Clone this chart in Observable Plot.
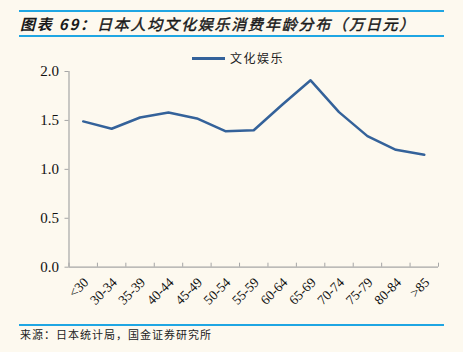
<!DOCTYPE html>
<html><head><meta charset="utf-8">
<script src="https://cdn.jsdelivr.net/npm/d3@7"></script>
<script src="https://cdn.jsdelivr.net/npm/@observablehq/plot@0.6"></script>
<style>
html,body{margin:0;padding:0;background:#FDF9EF;}
#wrap{position:relative;width:463px;height:352px;background:#FDF9EF;overflow:hidden;}
.hr{position:absolute;left:19px;width:425px;height:2px;background:#1FA6E3;}
#title{position:absolute;left:20px;top:13px;font-family:"Noto Sans CJK SC",sans-serif;font-size:15px;font-style:italic;font-weight:normal;-webkit-text-stroke:0.45px #1a1a1a;color:#1a1a1a;letter-spacing:1.8px;white-space:nowrap;line-height:22px;}
#title b{font-weight:bold;-webkit-text-stroke:0;}
#src{position:absolute;left:20px;top:326px;font-family:"Noto Sans CJK SC",sans-serif;font-size:11px;color:#222;letter-spacing:1px;white-space:nowrap;line-height:16px;}
#legend{position:absolute;left:192px;top:50px;font-family:"Noto Sans CJK SC",sans-serif;font-size:12px;color:#222;letter-spacing:1.5px;white-space:nowrap;line-height:16px;display:flex;align-items:center;}
#legend .sw{display:inline-block;width:33px;height:3px;background:#34629A;margin-right:5px;}
#chart{position:absolute;left:0;top:40px;}
</style></head>
<body><div id="wrap">
<div class="hr" style="top:10px"></div>
<div id="title"><b>图表 69：</b>日本人均文化娱乐消费年龄分布（万日元）</div>
<div class="hr" style="top:35px"></div>
<div id="legend"><span class="sw"></span>文化娱乐</div>
<div id="chart"></div>
<div class="hr" style="top:324px"></div>
<div id="src">来源：日本统计局，国金证券研究所</div>
</div>
<script>
const categories = ["<30","30-34","35-39","40-44","45-49","50-54","55-59","60-64","65-69","70-74","75-79","80-84",">85"];
const values = [1.49,1.415,1.53,1.58,1.52,1.39,1.40,1.66,1.91,1.585,1.34,1.20,1.15];
const yTicks = [0,0.5,1.0,1.5,2.0];
const seriesName = "文化娱乐";

const data = categories.map((c,i)=>({i, c, v: values[i]}));
const idx = categories.map((c,i)=>i);
const bounds = d3.range(categories.length+1).map(k=>k-0.5);
const serif = "'Times New Roman','Liberation Serif',serif";

const chart = Plot.plot({
  width: 463, height: 280,
  marginLeft: 68.5, marginRight: 25, marginTop: 31, marginBottom: 53.3,
  style: {background: "transparent", fontFamily: serif},
  x: {type: "linear", domain: [-0.5, categories.length-0.5]},
  y: {domain: [0, 2]},
  marks: [
    Plot.axisY({ticks: yTicks, tickFormat: d3.format(".1f"), tickSize: 4, tickPadding: 6, stroke: "#A6A6A6", fontSize: 15, color: "#111", label: null}),
    Plot.axisX({ticks: bounds, tickSize: -4, tickFormat: () => "", stroke: "#A6A6A6", label: null}),
    Plot.axisX({ticks: idx, tickSize: 0, tickFormat: i => categories[i], tickRotate: -45, tickPadding: 10, dx: 3, dy: 3, fontSize: 13.5, color: "#111", label: null}),
    Plot.ruleX([-0.5], {stroke: "#A6A6A6", strokeWidth: 1.2}),
    Plot.ruleY([0], {stroke: "#A6A6A6", strokeWidth: 1.2}),
    Plot.line(data, {x: "i", y: "v", stroke: "#34629A", strokeWidth: 2.5})
  ]
});
document.getElementById("chart").appendChild(chart);
</script>
</body></html>
